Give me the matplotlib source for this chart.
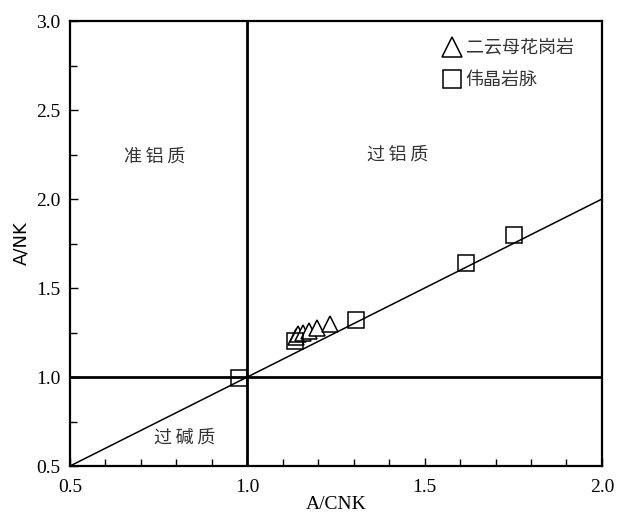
import matplotlib.pyplot as plt
from matplotlib.ticker import MultipleLocator

plt.rcParams['font.family'] = ['Liberation Serif', 'Noto Sans CJK SC']

# 二云母花岗岩 (triangles)
tri_x = [1.137, 1.143, 1.157, 1.174, 1.196, 1.233]
tri_y = [1.225, 1.24, 1.25, 1.26, 1.275, 1.30]
# 伟晶岩脉 (squares)
sq_x = [0.976, 1.134, 1.306, 1.616, 1.752]
sq_y = [0.994, 1.20, 1.32, 1.64, 1.80]

region_labels = ['准铝质', '过铝质', '过碱质']
region_pos = [(0.74, 2.24), (1.425, 2.25), (0.824, 0.66)]

fig = plt.figure(figsize=(6.25, 5.12), dpi=100)
ax = fig.add_axes([0.112, 0.0898, 0.851, 0.869])

ax.plot([0.5, 2.0], [0.5, 2.0], color='black', lw=1.1)
ax.axvline(1.0, color='black', lw=2)
ax.axhline(1.0, color='black', lw=2)

ax.plot(tri_x, tri_y, linestyle='none', marker='^', ms=12, mfc='white',
        mec='black', mew=1.1, label='二云母花岗岩')
ax.plot(sq_x, sq_y, linestyle='none', marker='s', ms=11, mfc='none',
        mec='black', mew=1.1, label='伟晶岩脉')

for txt, (x, y) in zip(region_labels, region_pos):
    ax.text(x, y, '\u2009'.join(txt), ha='center', va='center', fontsize=13,
            family=['Noto Sans CJK SC', 'DejaVu Sans'], color='#333333')

ax.set_xlim(0.5, 2.0)
ax.set_ylim(0.5, 3.0)
ax.xaxis.set_major_locator(MultipleLocator(0.5))
ax.xaxis.set_minor_locator(MultipleLocator(0.1))
ax.yaxis.set_major_locator(MultipleLocator(0.5))
ax.yaxis.set_minor_locator(MultipleLocator(0.25))
ax.xaxis.set_major_formatter(plt.FormatStrFormatter('%.1f'))
ax.yaxis.set_major_formatter(plt.FormatStrFormatter('%.1f'))
ax.tick_params(which='both', direction='in', labelsize=14, width=1)
ax.tick_params(which='major', length=6)
ax.tick_params(which='minor', length=5)
ax.tick_params(axis='x', pad=9)
ax.tick_params(axis='y', pad=7)
for s in ax.spines.values():
    s.set_linewidth(1.6)

ax.set_xlabel('A/CNK', fontsize=14, labelpad=0)
ax.set_ylabel('A/NK', fontsize=13, family=['DejaVu Sans'], labelpad=4)

leg = ax.legend(loc='upper left', frameon=False, handletextpad=0.2,
                prop={'family': ['Noto Sans CJK SC'], 'size': 13},
                borderaxespad=0, borderpad=0, labelspacing=0.8,
                handlelength=1.1, markerscale=1.2,
                bbox_to_anchor=(0.70, 0.96))
for t in leg.get_texts():
    t.set_color('#333333')

fig.savefig('out.png', dpi=100)
